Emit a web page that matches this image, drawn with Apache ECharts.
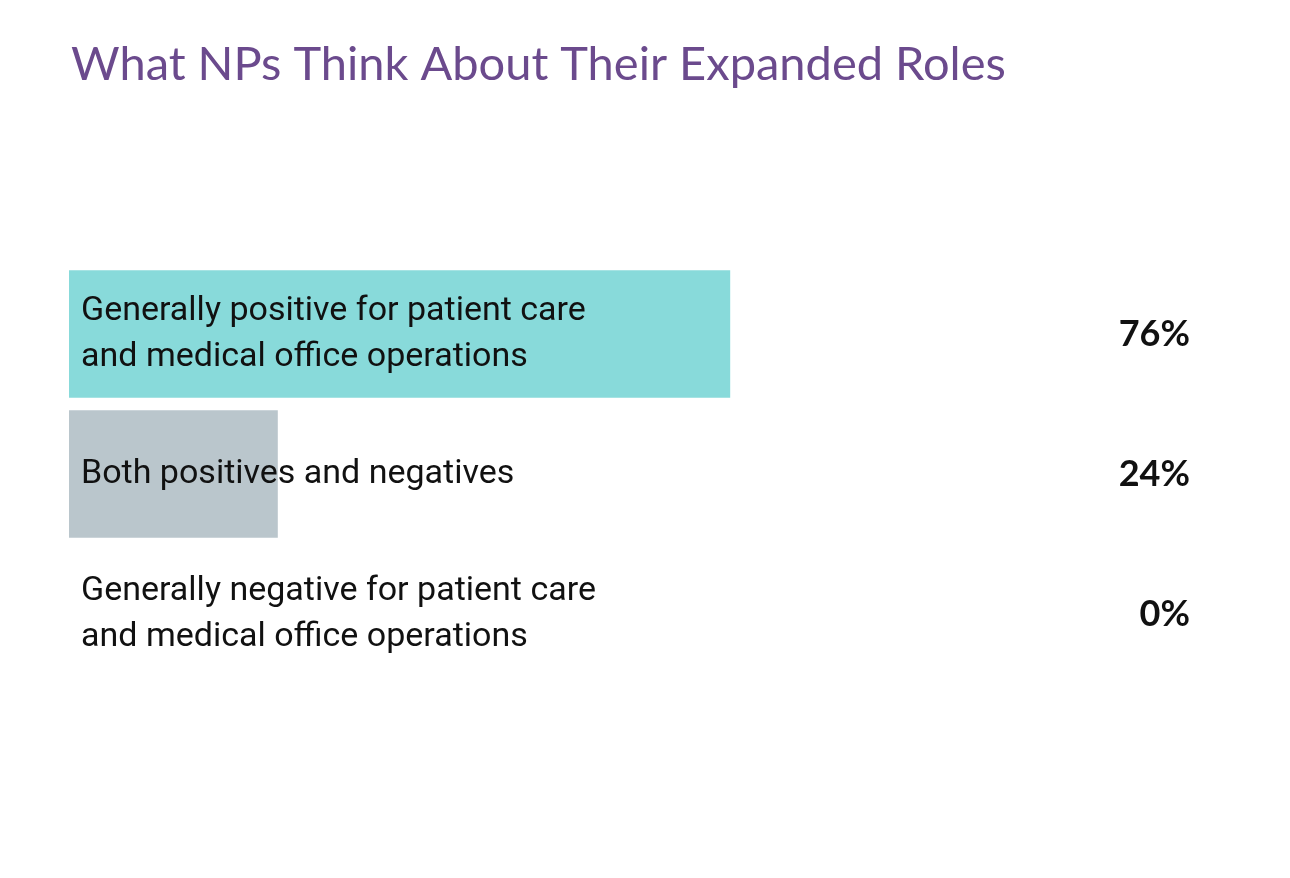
<!DOCTYPE html>
<html><head><meta charset="utf-8">
<script src="https://cdn.jsdelivr.net/npm/echarts@6/dist/echarts.min.js"></script>
<style>html,body{margin:0;padding:0;background:#fff}#c{width:1290px;height:878px}</style>
</head><body><div id="c"></div>
<script>
const categories = ["Generally positive for patient care\nand medical office operations","Both positives and negatives","Generally negative for patient care\nand medical office operations"];
const values = [76, 24, 0];
const valueLabels = ["76%","24%","0%"];
const colors = ["#88dada","#bac6cc","#bac6cc"];
const chart = echarts.init(document.getElementById('c'));
chart.setOption({
  animation:false,
  title:{text:"What NPs Think About Their Expanded Roles",left:66,top:36,textStyle:{color:"#6b4a8d",fontSize:47,fontWeight:"normal",fontFamily:"Lato"}},
  grid:{left:69,top:264,width:870,height:420},
  xAxis:{type:"value",min:0,max:100,show:false},
  yAxis:[
    {type:"category",data:categories,inverse:true,z:10,axisLine:{show:false},axisTick:{show:false},
     axisLabel:{inside:true,align:"left",margin:12,color:"#111",fontSize:34,lineHeight:46,fontFamily:"Roboto"}},
    {type:"category",data:valueLabels,inverse:true,position:"right",axisLine:{show:false},axisTick:{show:false},
     axisLabel:{align:"right",margin:251,color:"#111",fontSize:36,fontWeight:"bold",fontFamily:"Lato"}}
  ],
  series:[{type:"bar",data:values.map((v,i)=>({value:v,itemStyle:{color:colors[i]}})),barCategoryGap:"9%"}]
});
</script></body></html>
